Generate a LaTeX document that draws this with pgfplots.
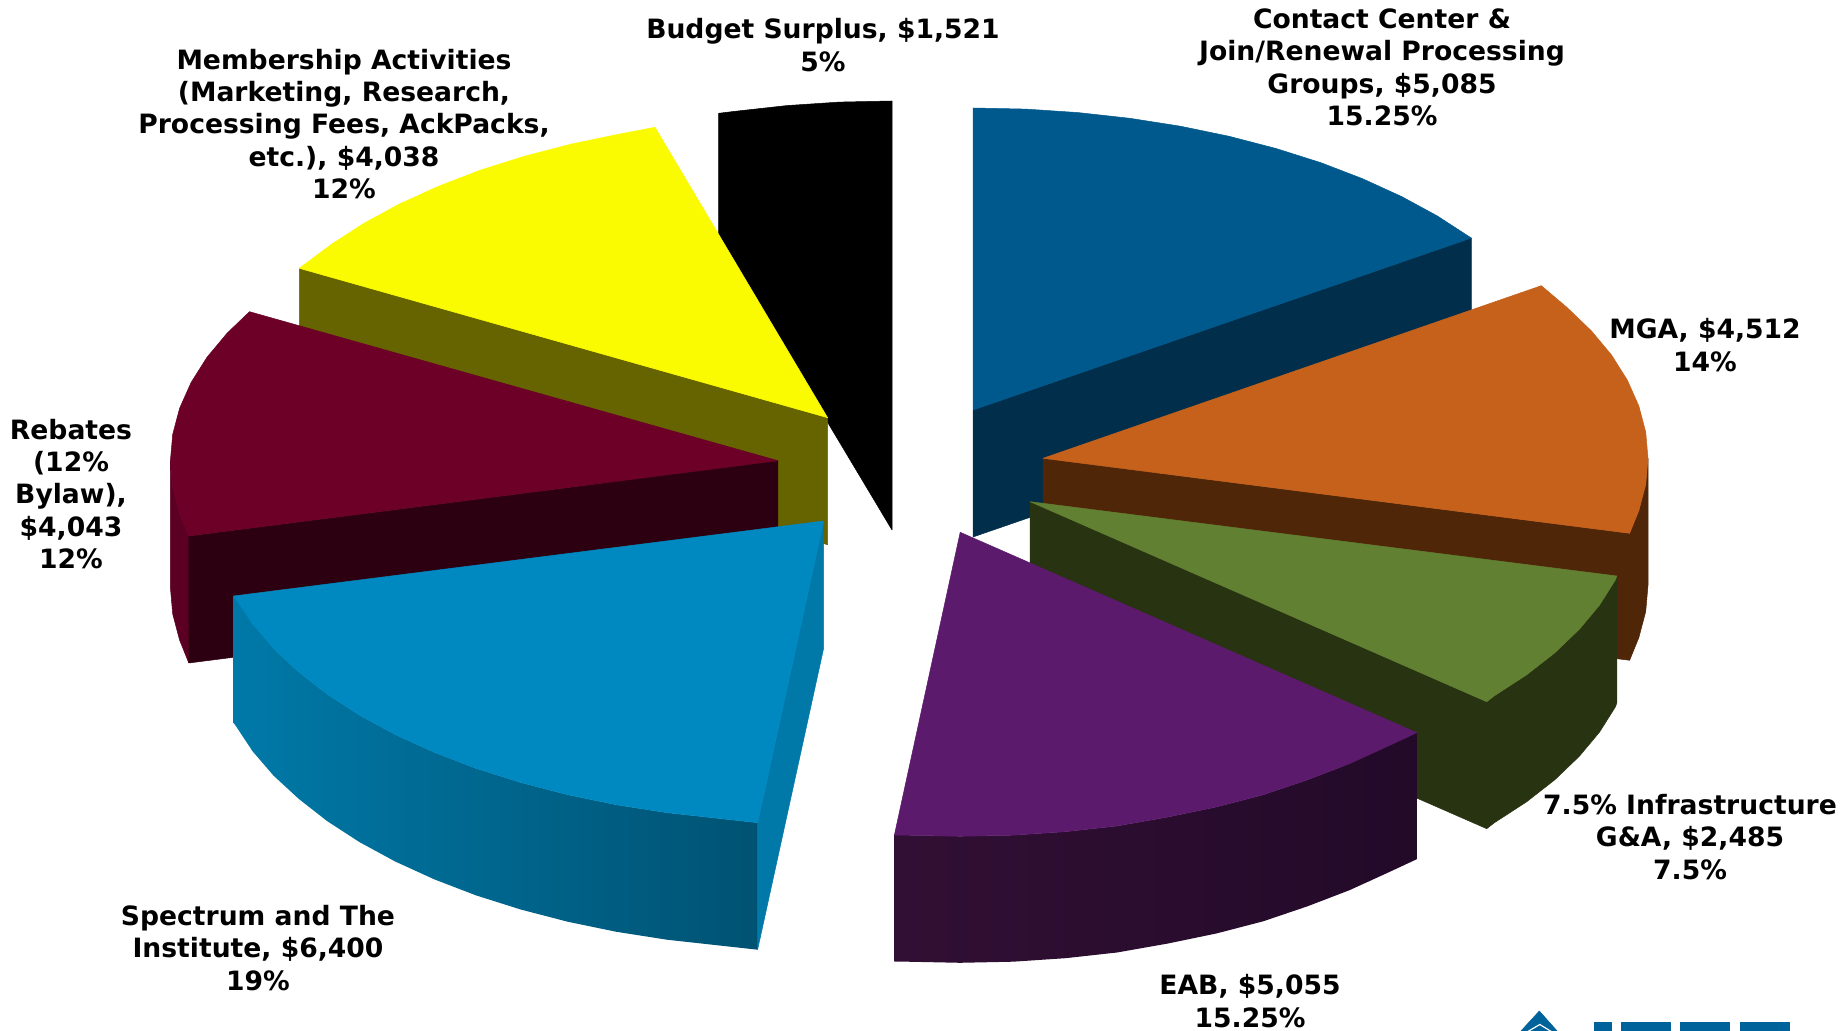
\documentclass[border=0pt]{standalone}
\usepackage{pgfplots}
\pgfplotsset{compat=1.18}
\usepackage{fontspec}
\setmainfont{DejaVu Sans}
\definecolor{ctop}{HTML}{00598C}\definecolor{cside}{HTML}{012F4B}
\definecolor{otop}{HTML}{C5611B}\definecolor{oside}{HTML}{502609}
\definecolor{gtop}{HTML}{618032}\definecolor{gside}{HTML}{283312}
\definecolor{ptop}{HTML}{5B1A6B}\definecolor{prima}{HTML}{310F34}\definecolor{primb}{HTML}{230A29}
\definecolor{stop}{HTML}{0089C0}\definecolor{sside}{HTML}{0079A8}
\definecolor{rtop}{HTML}{6C0027}\definecolor{rside}{HTML}{2C0010}\definecolor{rrim}{HTML}{5B0022}
\definecolor{ytop}{HTML}{FAFA00}\definecolor{yside}{HTML}{666400}
\definecolor{ieee}{HTML}{00629B}
\pgfplotsset{face/.style={draw=#1,line width=0.25pt,line join=round,fill=#1,mark=none}}
\begin{document}
\begin{tikzpicture}[x=1pt,y=1pt]
\useasboundingbox (0,0) rectangle (924,515.5);
\begin{axis}[
  at={(0pt,0pt)},anchor=south west,scale only axis,width=924pt,height=515.5pt,
  xmin=0,xmax=1848,ymin=0,ymax=1031,y dir=reverse,hide axis,clip=true,
  nodes={font=\fontsize{13.3}{16.2}\selectfont\bfseries,align=center,inner sep=0pt,text=black}]

% Budget surplus
\addplot[face=black] coordinates {(892,101)(839.2,102.1)(786.8,105.6)(735.2,111.3)(718.7,113.3)(718.7,240.3)(892,530)} --cycle;

% Contact center
\addplot[face=cside] coordinates {(973,410)(1471.4,238)(1471.4,365)(973,537)} --cycle;
\addplot[face=ctop] coordinates {(973,410)(973,108)(1025.8,109.1)(1078.2,112.6)(1129.8,118.3)(1180.3,126.2)(1229.1,136.3)(1276,148.5)(1320.6,162.6)(1362.5,178.7)(1401.5,196.5)(1437.2,215.9)(1469.4,236.8)(1471.4,238)} --cycle;

% Membership activities
\addplot[face=yside] coordinates {(299.3,268.3)(827.6,417.7)(827.6,544.7)(299.3,395.3)} --cycle;
\addplot[face=ytop] coordinates {(827.6,417.7)(299.3,268.3)(331.2,244.5)(363.4,223.6)(399.1,204.2)(438.1,186.4)(480,170.3)(524.6,156.2)(571.5,144)(620.3,133.9)(655,127.3)} --cycle;

% MGA: cut face and rim as one outline, then the top
\addplot[face=oside] coordinates {(1043,458.3)(1629.6,533.3)(1638.8,510.7)(1645.7,484.6)(1648,458.3)(1648,585.3)(1645.7,611.6)(1638.8,637.7)(1629.6,660.3)(1043,585.3)} --cycle;
\addplot[face=otop] coordinates {(1043,458.3)(1541.3,285.7)(1566.8,307.3)(1591.2,330.7)(1611.5,355)(1627.3,380.1)(1638.8,405.9)(1645.7,432)(1648,458.3)(1645.7,484.6)(1638.8,510.7)(1629.6,533.3)} --cycle;

% Rebates
\addplot[face=rrim] coordinates {(170.4,460.7)(172.7,487)(179.6,513.1)(188.8,536)(188.8,663)(179.6,640.1)(172.7,614)(170.4,587.7)} --cycle;
\addplot[face=rside] coordinates {(777.9,460.7)(188.8,536)(188.8,663)(777.9,587.7)} --cycle;
\addplot[face=rtop] coordinates {(777.9,460.7)(249.5,311.7)(227.2,333.1)(206.9,357.4)(191.1,382.5)(179.6,408.3)(172.7,434.4)(170.4,460.7)(172.7,487)(179.6,513.1)(188.8,536)} --cycle;

% Infrastructure G&A: cut face and rim as one outline, then the top
\addplot[face=gside] coordinates {(1030.1,501.7)(1486.7,701.7)(1494.3,695.8)(1526.5,674.9)(1554.9,652.7)(1579.3,629.3)(1599.6,605)(1615.4,579.9)(1616.8,576)(1616.8,703)(1615.4,706.9)(1599.6,732)(1579.3,756.3)(1554.9,779.7)(1526.5,801.9)(1494.3,822.8)(1486.7,828.7)(1030.1,628.7)} --cycle;
\addplot[face=gtop] coordinates {(1030.1,501.7)(1616.8,576)(1615.4,579.9)(1599.6,605)(1579.3,629.3)(1554.9,652.7)(1526.5,674.9)(1494.3,695.8)(1486.7,701.7)} --cycle;

% Spectrum and The Institute
\addplot[face=sside] coordinates {(823.7,521)(823.7,648)(757.6,949.7)(757.6,822.7)} --cycle;
\addplot[draw=none,mark=none,left color=sside,middle color=sside!92!black,right color=sside!68!black] coordinates {(757.6,822.7)(718.5,818.4)(666.9,812.7)(616.4,804.8)(567.6,794.7)(520.7,782.5)(476.1,768.4)(434.2,752.3)(395.2,734.5)(359.5,715.1)(327.3,694.2)(298.9,672)(273.5,648.6)(252.6,624.3)(236,599.2)(233.7,596)(233.7,723)(236,726.2)(252.6,751.3)(273.5,775.6)(298.9,799)(327.3,821.2)(359.5,842.1)(395.2,861.5)(434.2,879.3)(476.1,895.4)(520.7,909.5)(567.6,921.7)(616.4,931.8)(666.9,939.7)(718.5,945.4)(757.6,949.7)} --cycle;
\addplot[face=stop] coordinates {(823.7,521)(757.6,822.7)(718.5,818.4)(666.9,812.7)(616.4,804.8)(567.6,794.7)(520.7,782.5)(476.1,768.4)(434.2,752.3)(395.2,734.5)(359.5,715.1)(327.3,694.2)(298.9,672)(273.5,648.6)(252.6,624.3)(236,599.2)(233.7,596)} --cycle;

% EAB
\addplot[draw=none,mark=none,left color=prima,right color=primb] coordinates {(1416.8,732.7)(1388.7,745.8)(1349.7,763.6)(1307.8,779.7)(1263.2,794.8)(1216.3,807)(1167.5,817.1)(1117,826)(1065.4,831.7)(1013,835.2)(960.2,836.3)(907.4,835.2)(894.4,835)(894.4,961.5)(907.4,961.7)(960.2,962.8)(1013,961.7)(1065.4,958.2)(1117,952.5)(1167.5,943.6)(1216.3,933.5)(1263.2,921.3)(1307.8,906.2)(1349.7,890.1)(1388.7,872.3)(1416.8,859.2)} --cycle;
\addplot[face=ptop] coordinates {(960.2,532.3)(1416.8,732.7)(1388.7,745.8)(1349.7,763.6)(1307.8,779.7)(1263.2,794.8)(1216.3,807)(1167.5,817.1)(1117,826)(1065.4,831.7)(1013,835.2)(960.2,836.3)(907.4,835.2)(894.4,835)} --cycle;

% Emblem and lettering at the lower right
\addplot[face=ieee] coordinates {(1539.3,1011)(1520,1032)(1558,1032)} --cycle;
\addplot[draw=white,line width=0.6pt,mark=none] coordinates {(1527,1032)(1539.8,1024.5)(1552,1032)};
\addplot[face=ieee] coordinates {(1594,1022.3)(1611.3,1022.3)(1611.3,1032)(1594,1032)} --cycle;
\addplot[face=ieee] coordinates {(1621,1022.3)(1670,1022.3)(1670,1032)(1621,1032)} --cycle;
\addplot[face=ieee] coordinates {(1680.3,1022.3)(1729.3,1022.3)(1729.3,1032)(1680.3,1032)} --cycle;
\addplot[face=ieee] coordinates {(1740,1022.3)(1789,1022.3)(1789,1032)(1740,1032)} --cycle;

\node at (axis cs:823,45) {Budget Surplus, \$1,521\\5\%};
\node at (axis cs:1382,67.5) {Contact Center \&\\Join/Renewal Processing\\Groups, \$5,085\\15.25\%};
\node at (axis cs:1705,345) {MGA, \$4,512\\14\%};
\node at (axis cs:1690,837) {7.5\% Infrastructure\\G\&A, \$2,485\\7.5\%};
\node at (axis cs:1250,1001) {EAB, \$5,055\\15.25\%};
\node at (axis cs:258,948) {Spectrum and The\\Institute, \$6,400\\19\%};
\node at (axis cs:71,494) {Rebates\\(12\%\\Bylaw),\\\$4,043\\12\%};
\node at (axis cs:344,124) {Membership Activities\\(Marketing, Research,\\Processing Fees, AckPacks,\\etc.), \$4,038\\12\%};
\end{axis}
\end{tikzpicture}
\end{document}
